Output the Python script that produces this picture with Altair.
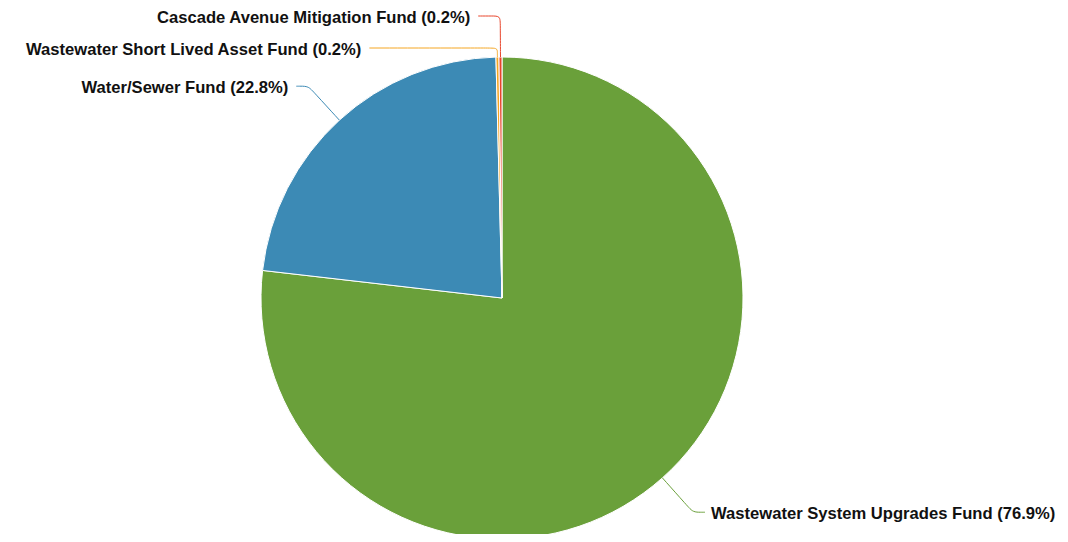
import altair as alt
import pandas as pd

# ---- data ----
names = [
    "Wastewater System Upgrades Fund",
    "Water/Sewer Fund",
    "Wastewater Short Lived Asset Fund",
    "Cascade Avenue Mitigation Fund",
]
pcts = [76.9, 22.8, 0.2, 0.2]
colors = ["#6aa03a", "#3c8ab5", "#f5a623", "#e8442a"]

df = pd.DataFrame({"name": names, "pct": pcts, "idx": list(range(len(names)))})

# ---- layout constants ----
W, H = 1052, 526
CX, CY, R = 494, 290, 241
R1 = R + 46      # radial length for elbow
R2 = 283         # label circle
TOP, GAP = 8, 32
FONT = "Liberation Sans"
FS = 16.6

color_scale = alt.Scale(domain=names, range=colors)

base = (
    alt.Chart(df)
    .transform_window(cum="sum(pct)", sort=[alt.SortField("idx")], frame=[None, 0])
    .transform_joinaggregate(total="sum(pct)")
    .transform_calculate(
        a="2*PI*(datum.cum - datum.pct/2)/datum.total",
    )
    .transform_calculate(
        s="sin(datum.a)", c="cos(datum.a)",
    )
    .transform_calculate(
        left="datum.s < 0 ? 1 : 0",
        ex=f"{CX} + {R}*datum.s",
        ey=f"{CY} - {R}*datum.c",
        ny=f"{CY} - {R1}*datum.c",
    )
    .transform_window(rank="row_number()", groupby=["left"],
                      sort=[alt.SortField("a", order="descending")])
    .transform_calculate(
        ly=f"datum.left ? max(datum.ny, {TOP} + (datum.rank-1)*{GAP}) : datum.ny",
    )
    .transform_calculate(
        t=f"abs(datum.c) > 0.2 ? ({CY} - datum.ly)/datum.c : {R1}",
    )
    .transform_calculate(
        elx=f"{CX} + datum.t*datum.s",
        circ=f"sqrt(max(0, {R2}*{R2} - (datum.ly-{CY})*(datum.ly-{CY})))",
    )
    .transform_calculate(
        endx=f"datum.left ? min(datum.elx - 12, {CX} - datum.circ) : max(datum.elx + 12, {CX} + datum.circ)",
        dlen="sqrt(pow(datum.elx-datum.ex,2)+pow(datum.ly-datum.ey,2))",
    )
    .transform_calculate(
        k="min(8, datum.dlen*0.5)/max(datum.dlen, 0.001)",
        tx="datum.left ? datum.endx - 8 : datum.endx + 6",
        label="datum.name + ' (' + format(datum.pct, '.1f') + '%)'",
    )
    .transform_calculate(
        x0="datum.ex", y0="datum.ey",
        x1="datum.elx - (datum.elx-datum.ex)*datum.k",
        y1="datum.ly - (datum.ly-datum.ey)*datum.k",
        x2="datum.elx", y2="datum.ly",
        x3="datum.left ? datum.elx - 8 : datum.elx + 8", y3="datum.ly",
        x4="datum.endx", y4="datum.ly",
    )
)

pie = (
    alt.Chart(df)
    .mark_arc(radius=R, stroke="white", strokeWidth=1)
    .encode(
        theta=alt.Theta("pct:Q", stack=True),
        color=alt.Color("name:N", scale=color_scale, legend=None),
        order=alt.Order("idx:Q"),
        x=alt.value(CX),
        y=alt.value(CY),
    )
)

lines = (
    base.transform_fold(["x0", "x1", "x2", "x3", "x4"], as_=["key", "px"])
    .transform_calculate(
        i="toNumber(substring(datum.key, 1))",
        py="datum['y' + substring(datum.key, 1)]",
    )
    .mark_line(interpolate="basis", strokeWidth=1)
    .encode(
        x=alt.X("px:Q", scale=None, axis=None),
        y=alt.Y("py:Q", scale=None, axis=None),
        color=alt.Color("name:N", scale=color_scale, legend=None),
        detail="name:N",
        order="i:Q",
    )
)

text_left = (
    base.transform_filter("datum.left == 1")
    .mark_text(align="right", baseline="middle", font=FONT, fontSize=FS,
               fontWeight="bold", color="#111111", dy=2)
    .encode(
        x=alt.X("tx:Q", scale=None, axis=None),
        y=alt.Y("ly:Q", scale=None, axis=None),
        text="label:N",
    )
)
text_right = (
    base.transform_filter("datum.left == 0")
    .mark_text(align="left", baseline="middle", font=FONT, fontSize=FS,
               fontWeight="bold", color="#111111", dy=2)
    .encode(
        x=alt.X("tx:Q", scale=None, axis=None),
        y=alt.Y("ly:Q", scale=None, axis=None),
        text="label:N",
    )
)

chart = (
    alt.layer(pie, lines, text_left, text_right)
    .properties(width=W, height=H, padding=0, autosize=alt.AutoSizeParams(type="none"))
    .configure_view(stroke=None)
)

chart.save("out.html", embed_options={"renderer": "svg", "actions": False})
